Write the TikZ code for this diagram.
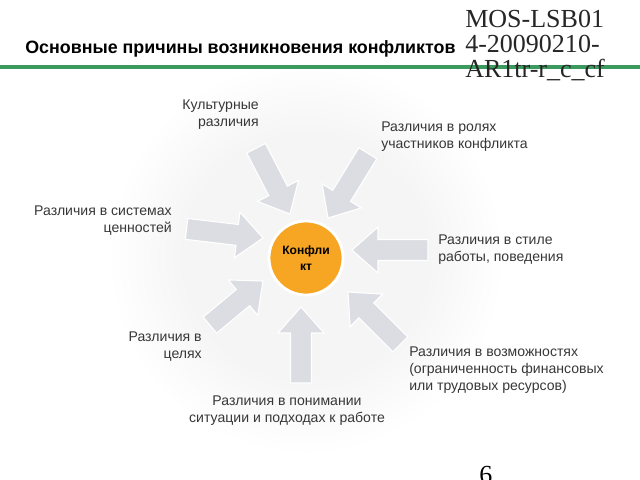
\documentclass[tikz,border=0pt]{standalone}
\usepackage{fontspec}
\setmainfont{Liberation Sans}
\newfontfamily\timesfont{Liberation Serif}

\definecolor{linegreen}{RGB}{60,154,95}
\definecolor{conforange}{RGB}{246,166,35}
\definecolor{arrowgray}{RGB}{219,221,226}
\definecolor{labelgray}{RGB}{55,55,55}

\pgfdeclareradialshading{halo}{\pgfpoint{0bp}{0bp}}{color(0bp)=(black!4); color(14bp)=(black!4); color(23bp)=(white); color(50bp)=(white)}

\tikzset{
  lbl/.style={font=\fontsize{10}{11.8}\selectfont, text=labelgray, inner sep=0pt},
  pics/cause/.style={code={
    \fill[arrowgray, draw=white, line width=0.8pt] (0,0) -- (-26,23) -- (-26,10.5) -- (-#1,10.5)
      -- (-#1,-10.5) -- (-26,-10.5) -- (-26,-23) -- cycle;
  }}
}

\begin{document}
\begin{tikzpicture}[x=0.025cm, y=-0.025cm]
 \useasboundingbox (0,0) rectangle (640,480);
 \shade[shading=halo] (91,42) rectangle (521,472);

 % heading
 \node[anchor=base west, inner sep=0pt, font=\bfseries\fontsize{12.7}{16}\selectfont] (title) at (25,54)
   {Основные причины возникновения конфликтов};
 \draw[linegreen, line width=3.5pt] (0,67) -- (640,67);
 \node[anchor=north west, inner sep=0pt, align=left, text=black!85,
   font=\timesfont\fontsize{18.5}{17.7}\selectfont] (code) at (465,10) {MOS-LSB01\\4-20090210-\\AR1tr-r\_c\_cf};
 \node[anchor=north west, inner sep=0pt, font=\timesfont\fontsize{18.5}{20}\selectfont] (page) at (479,466) {6};

 % arrows into the centre
 \foreach \tx/\ty/\ang/\len in {290/214/-62.7/74, 328/218/-121.6/76, 352/250/180/76, 348/292/135/74,
   301/307/90/76, 263/281/39.7/69, 263/238/-6.8/77}
   \pic[rotate=\ang] at (\tx,\ty) {cause=\len};

 \node[circle, fill=conforange, draw=white, line width=2pt, minimum size=1.85cm, inner sep=0pt,
   align=center, font=\bfseries\fontsize{8.6}{11.3}\selectfont] (conf) at (306,258) {Конфли\\кт};

 % causes
 \node[lbl, align=right, anchor=north east] (cult) at (259,100) {Культурные\\различия};
 \node[lbl, align=left, anchor=north west] (roles) at (381,122) {Различия в ролях\\участников конфликта};
 \node[lbl, align=right, anchor=north east] (values) at (172,206) {Различия в системах\\ценностей};
 \node[lbl, align=left, anchor=north west] (style) at (438,235) {Различия в стиле\\работы, поведения};
 \node[lbl, align=right, anchor=north east] (goals) at (202,332) {Различия в\\целях};
 \node[lbl, align=left, anchor=north west] (means) at (409,347)
   {Различия в возможностях\\(ограниченность финансовых\\или трудовых ресурсов)};
 \node[lbl, align=center, anchor=north] (views) at (287,396) {Различия в понимании\\ситуации и подходах к работе};
\end{tikzpicture}
\end{document}
